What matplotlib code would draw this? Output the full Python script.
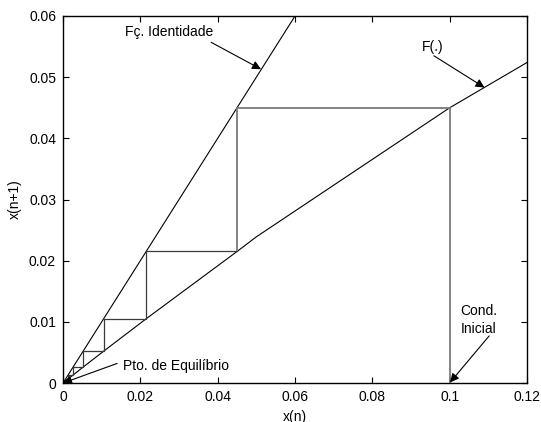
import matplotlib
matplotlib.use("Agg")
import matplotlib.pyplot as plt

plt.rcParams['font.family'] = ['Liberation Sans', 'DejaVu Sans']

# Identity function y = x
x_ident = [0.0, 0.12]
y_ident = [0.0, 0.12]

# Map F(.) sampled points
x_f = [0.0, 0.0026, 0.0052, 0.0105, 0.0215, 0.045, 0.05, 0.1, 0.12]
y_f = [0.0, 0.0013, 0.0026, 0.0052, 0.0105, 0.0215, 0.0239, 0.045, 0.0524]

# Iterates x(n) starting from the initial condition
x_iter = [0.1, 0.045, 0.0215, 0.0105, 0.0052, 0.0026, 0.0013, 0.00065]

x_ticks = [0, 0.02, 0.04, 0.06, 0.08, 0.1, 0.12]
x_tick_labels = ["0", "0.02", "0.04", "0.06", "0.08", "0.1", "0.12"]
y_ticks = [0, 0.01, 0.02, 0.03, 0.04, 0.05, 0.06]
y_tick_labels = ["0", "0.01", "0.02", "0.03", "0.04", "0.05", "0.06"]

fig = plt.figure(figsize=(5.41, 4.22), dpi=100)
ax = fig.add_axes([0.1165, 0.0924, 0.8577, 0.8697])

ax.plot(x_ident, y_ident, color='black', lw=0.8)
ax.plot(x_f, y_f, color='black', lw=0.8)

# Cobweb staircase
px, py = [x_iter[0]], [0.0]
for a, b in zip(x_iter[:-1], x_iter[1:]):
    px += [a, b]
    py += [b, b]
ax.plot(px[:4], py[:4], color='#7a7a7a', lw=1.3)
ax.plot(px[3:], py[3:], color='#3a3a3a', lw=0.9)

ax.set_xlim(0, 0.12)
ax.set_ylim(0, 0.06)
ax.set_xticks(x_ticks)
ax.set_xticklabels(x_tick_labels)
ax.set_yticks(y_ticks)
ax.set_yticklabels(y_tick_labels)
ax.tick_params(direction='in', top=True, right=True, length=4, width=0.8,
               labelsize=10, pad=5)
for s in ax.spines.values():
    s.set_linewidth(1.0)

ax.set_xlabel("x(n)", fontsize=10, labelpad=4)
ax.set_ylabel("x(n+1)", fontsize=10, labelpad=5)

arrow = dict(arrowstyle='-|>', color='black', lw=0.8, mutation_scale=13,
             shrinkA=0, shrinkB=0)

ax.text(0.0274, 0.0574, "Fç. Identidade", ha='center', va='center', fontsize=10)
ax.annotate("", xy=(0.0512, 0.0513), xytext=(0.0383, 0.0557), arrowprops=arrow)

ax.text(0.0956, 0.0549, "F(.)", ha='center', va='center', fontsize=10)
ax.annotate("", xy=(0.1090, 0.0483), xytext=(0.0959, 0.0535), arrowprops=arrow)

ax.text(0.1074, 0.0103, "Cond.\nInicial", ha='center', va='center',
        fontsize=10, linespacing=1.3)
ax.annotate("", xy=(0.1001, 0.0001), xytext=(0.1102, 0.0077), arrowprops=arrow)

ax.text(0.0155, 0.0028, "Pto. de Equilíbrio", ha='left', va='center', fontsize=10)
ax.annotate("", xy=(0.0, 0.0), xytext=(0.0140, 0.0032), arrowprops=arrow)

fig.savefig("out.png", dpi=100)
